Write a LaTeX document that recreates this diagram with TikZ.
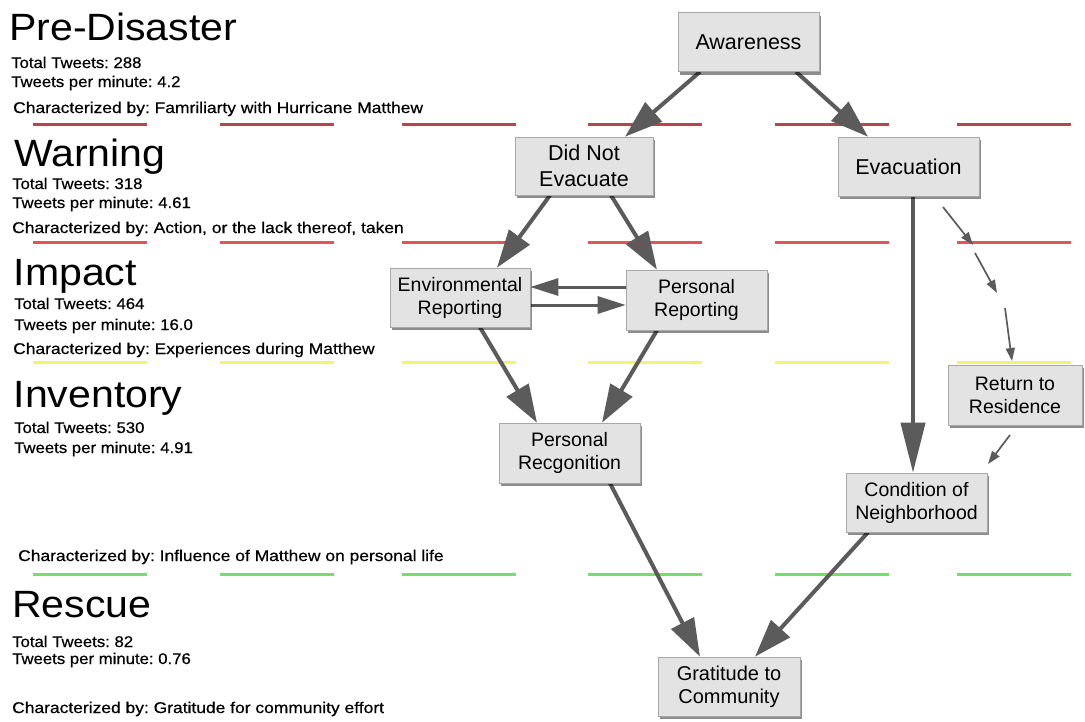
\documentclass[tikz,border=0pt]{standalone}
\usepackage{fontspec}
\usepackage{graphicx}
\setmainfont{Liberation Sans}
\newfontfamily\medsans{Liberation Sans}[FakeBold=0.5]
\usetikzlibrary{arrows.meta,shadows,calc,backgrounds}
\definecolor{arr}{HTML}{5B5B5B}
\definecolor{boxfill}{HTML}{E3E3E3}
\definecolor{boxline}{HTML}{A8A8A8}
\definecolor{sepA}{HTML}{B9434F}
\definecolor{sepB}{HTML}{E2525F}
\definecolor{sepC}{HTML}{F4F46C}
\definecolor{sepD}{HTML}{6CE46C}
\newcommand{\hsc}[1]{\scalebox{1.08}[1]{#1}}
\newcommand{\ssc}[1]{\scalebox{1.08}[1]{#1}}
\newcommand{\charsc}[1]{\scalebox{1.125}[1]{#1}}
\frenchspacing
\begin{document}
\begin{tikzpicture}[x=1pt,y=-1pt,
  box/.style={draw=boxline, fill=boxfill, line width=0.6pt, minimum width=141pt,
    minimum height=59pt, align=center, inner sep=2pt,
    drop shadow={shadow xshift=2pt, shadow yshift=-3pt, fill=black, opacity=0.45}},
  bigtxt/.style={font=\fontsize{21.5}{26}\selectfont},
  midtxt/.style={font=\fontsize{19.5}{23}\selectfont},
  head/.style={anchor=base west, inner sep=0pt, font=\fontsize{38}{40}\selectfont},
  info/.style={anchor=base west, inner sep=0pt, font=\medsans\fontsize{15.5}{17}\selectfont},
  mainarrow/.style={draw=arr, line width=4pt, -{Triangle[length=38pt,width=25pt]}},
  longarrow/.style={draw=arr, line width=4pt, -{Triangle[length=50pt,width=24pt]}},
  sidearrow/.style={draw=arr, line width=3pt, -{Triangle[length=28pt,width=17pt]}},
  thinarrow/.style={draw=arr, line width=1.7pt, -{Triangle[length=13pt,width=9pt]}},
  sepline/.style={line width=3pt}
]
\useasboundingbox (0,0) rectangle (1085,721);

% left column texts
\node[head] (t1) at (9,40) {\hsc{Pre-Disaster}};
\node[info] (t1a) at (11,68) {\ssc{Total Tweets: 288}};
\node[info] (t1b) at (11,87) {\ssc{Tweets per minute: 4.2}};
\node[info] (t1c) at (13,113) {\charsc{Characterized by: Famriliarty with Hurricane Matthew}};

\node[head] (t2) at (14,166) {\hsc{Warning}};
\node[info] (t2a) at (12,189) {\ssc{Total Tweets: 318}};
\node[info] (t2b) at (12,208) {\ssc{Tweets per minute: 4.61}};
\node[info] (t2c) at (12,233) {\charsc{Characterized by: Action, or the lack thereof, taken}};

\node[head] (t3) at (13.5,285) {\hsc{Impact}};
\node[info] (t3a) at (14,309) {\ssc{Total Tweets: 464}};
\node[info] (t3b) at (14,330) {\ssc{Tweets per minute: 16.0}};
\node[info] (t3c) at (13,354) {\charsc{Characterized by: Experiences during Matthew}};

\node[head] (t4) at (13.5,407) {\hsc{Inventory}};
\node[info] (t4a) at (14,433) {\ssc{Total Tweets: 530}};
\node[info] (t4b) at (14,453) {\ssc{Tweets per minute: 4.91}};
\node[info] (t4c) at (18,561) {\charsc{Characterized by: Influence of Matthew on personal life}};

\node[head] (t5) at (12,617) {\hsc{Rescue}};
\node[info] (t5a) at (12,647) {\ssc{Total Tweets: 82}};
\node[info] (t5b) at (12,664) {\ssc{Tweets per minute: 0.76}};
\node[info] (t5c) at (12,713) {\charsc{Characterized by: Gratitude for community effort}};

% nodes
\node[box,bigtxt] (aw) at (748.5,42) {Awareness};
\node[box,bigtxt,minimum width=138pt,minimum height=58pt] (dne) at (584,166) {Did Not\\Evacuate};
\node[box,bigtxt] (evac) at (908.5,166.5) {Evacuation};
\node[box,midtxt,minimum width=140pt] (env) at (460,297.5) {Environmental\\Reporting};
\node[box,midtxt,minimum height=60pt] (prep) at (696.5,300) {Personal\\Reporting};
\node[box,midtxt,minimum height=60pt] (prec) at (569.5,453) {Personal\\Recgonition};
\node[box,midtxt,minimum width=134pt,minimum height=60pt] (ret) at (1015,395) {Return to\\Residence};
\node[box,midtxt] (cond) at (916.5,502.5) {Condition of\\Neighborhood};
\node[box,font=\fontsize{20}{23.3}\selectfont,minimum width=142pt] (grat) at (729,686.5) {Gratitude to\\Community};

% free ends of the broken thin arrow
\coordinate (d1s) at (943,207);
\coordinate (d1e) at (973,245);
\coordinate (d2s) at (975,253);
\coordinate (d2e) at (997,293);
\coordinate (d3s) at (1005,308);
\coordinate (d3e) at (1012,361);
\coordinate (r1s) at (1010,435);
\coordinate (r1e) at (988,464);

\begin{scope}[on background layer]
  \foreach \yy/\cc in {124/sepA,242/sepB,362/sepC,574/sepD}
    \foreach \xx in {33,220,402,588,775,957}
      \draw[sepline,\cc] (\xx,\yy) -- ++(114,0);

  \draw[mainarrow] ($(aw.south)+(-48.5,0)$) -- ($(dne.north)+(41,0)$);
  \draw[mainarrow] ($(aw.south)+(47.5,0)$) -- ($(evac.north)+(-40.5,0)$);
  \draw[mainarrow] ($(dne.south)+(-34,0)$) -- ($(env.north)+(37,0)$);
  \draw[mainarrow] ($(dne.south)+(27,0)$) -- ($(prep.north)+(-39.5,0)$);
  \draw[sidearrow] ($(prep.west)+(0,-13)$) -- ($(env.east)+(0,-10.5)$);
  \draw[sidearrow] ($(env.east)+(0,7.5)$) -- ($(prep.west)+(0,5)$);
  \draw[mainarrow] ($(env.south)+(20,0)$) -- ($(prec.north)+(-32.5,0)$);
  \draw[mainarrow] ($(prep.south)+(-39.5,0)$) -- ($(prec.north)+(32.5,0)$);
  \draw[longarrow] ($(evac.south)+(4.5,0)$) -- ($(cond.north)+(-3.5,0)$);
  \draw[mainarrow] ($(prec.south)+(40.5,0)$) -- ($(grat.north)+(-29,0)$);
  \draw[mainarrow] ($(cond.south)+(-48.5,0)$) -- ($(grat.north)+(26,0)$);
  \draw[thinarrow] (d1s) -- (d1e);
  \draw[thinarrow] (d2s) -- (d2e);
  \draw[thinarrow] (d3s) -- (d3e);
  \draw[thinarrow] (r1s) -- (r1e);
\end{scope}
\end{tikzpicture}
\end{document}
